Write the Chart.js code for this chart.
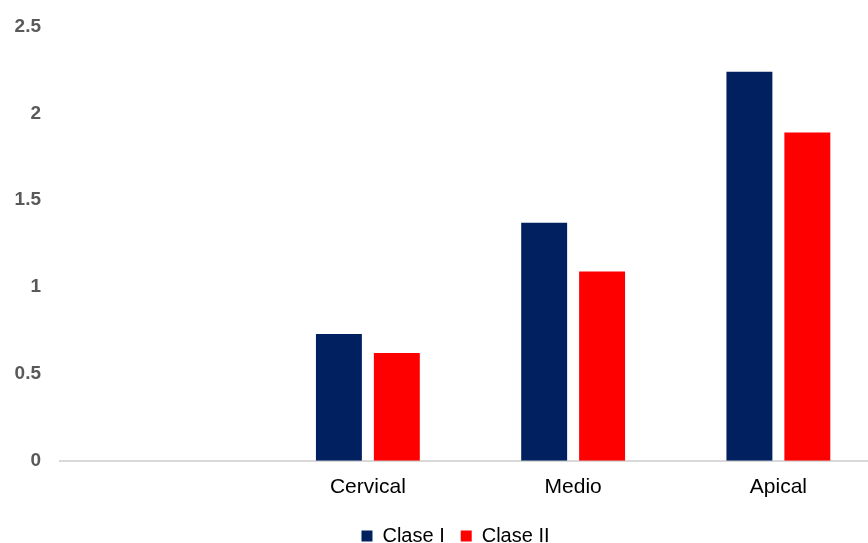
<!DOCTYPE html>
<html>
<head>
<meta charset="utf-8">
<script src="https://cdn.jsdelivr.net/npm/chart.js@4/dist/chart.umd.min.js"></script>
<style>
  html, body { margin: 0; padding: 0; background: #fff; overflow: hidden; }
  /* the plot runs slightly past the visible frame on the right and bottom */
  #wrap { width: 868px; height: 543px; overflow: hidden; }
  #chart { display: block; margin-top: -2px; }
</style>
</head>
<body>
<div id="wrap"><canvas id="chart" width="881" height="558"></canvas></div>
<script>
// first slot is left empty on purpose
const categories = ['', 'Cervical', 'Medio', 'Apical'];
const claseI = [null, 0.73, 1.37, 2.24];
const claseII = [null, 0.62, 1.09, 1.89];
const yTicks = [0, 0.5, 1, 1.5, 2, 2.5];

const FONT = '"Liberation Sans", Arial, sans-serif';

// nudge the legend a little to the right of the canvas centre
const legendShift = {
  id: 'legendShift',
  afterLayout(chart) {
    if (chart.legend) chart.legend.left += 18;
  }
};

new Chart(document.getElementById('chart'), {
  type: 'bar',
  data: {
    labels: categories,
    datasets: [
      {
        label: 'Clase I',
        data: claseI,
        backgroundColor: '#002060',
        categoryPercentage: 0.5645,
        barPercentage: 0.793
      },
      {
        label: 'Clase II',
        data: claseII,
        backgroundColor: '#ff0000',
        categoryPercentage: 0.5645,
        barPercentage: 0.793
      }
    ]
  },
  plugins: [legendShift],
  options: {
    responsive: false,
    animation: false,
    layout: { padding: { left: 12, top: 0, right: 0, bottom: 0 } },
    plugins: {
      tooltip: { enabled: false },
      legend: {
        position: 'bottom',
        labels: {
          boxWidth: 11,
          boxHeight: 11,
          padding: 16,
          color: '#000',
          font: { family: FONT, size: 20 }
        }
      }
    },
    scales: {
      x: {
        afterFit: axis => {
          axis.height += 4;
        },
        grid: { display: false },
        border: { color: '#d9d9d9', width: 2 },
        ticks: {
          color: '#000',
          padding: 6,
          font: { family: FONT, size: 21 }
        }
      },
      y: {
        min: 0,
        max: 2.5,
        afterBuildTicks: axis => {
          axis.ticks = yTicks.map(v => ({ value: v }));
        },
        afterFit: axis => {
          axis.width = 48;
        },
        grid: { display: false, drawTicks: false },
        border: { display: false },
        ticks: {
          color: '#595959',
          padding: 19,
          callback: v => String(v),
          font: { family: FONT, size: 19, weight: 'bold', lineHeight: 1 }
        }
      }
    }
  }
});
</script>
</body>
</html>
